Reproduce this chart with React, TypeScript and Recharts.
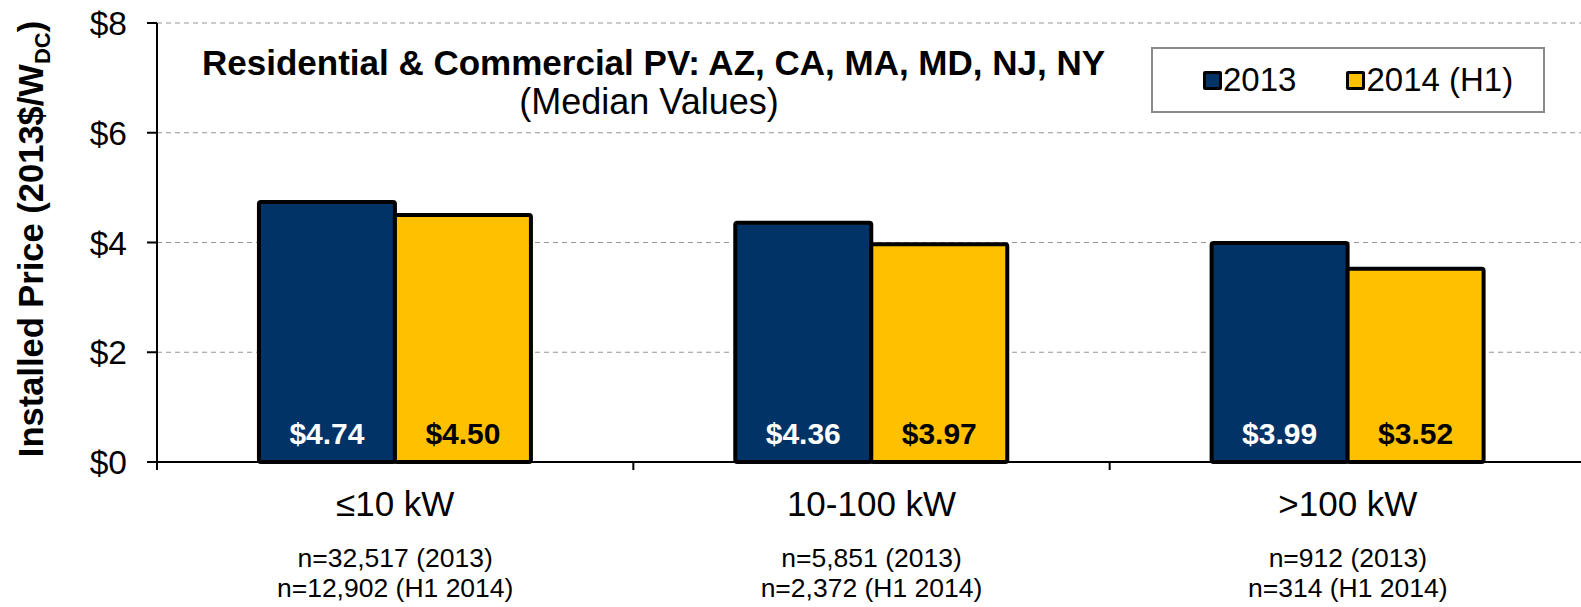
import React from 'react'
import { BarChart, Bar, XAxis, YAxis, CartesianGrid, Legend, LabelList } from 'recharts'

const categories = ['≤10 kW', '10-100 kW', '>100 kW']
const price2013 = [4.74, 4.36, 3.99]
const price2014 = [4.5, 3.97, 3.52]
const count2013 = [32517, 5851, 912]
const count2014 = [12902, 2372, 314]
const yTicks = [0, 2, 4, 6, 8]
const seriesNames = ['2013', '2014 (H1)']

const data = categories.map((c, i) => ({
  category: c,
  y2013: price2013[i],
  y2014: price2014[i],
}))

const FONT = '"Liberation Sans", Arial, sans-serif'
const BLUE = '#023366'
const GOLD = '#ffc000'
const CHART_W = 1590
const CHART_H = 607
const Y_AXIS_W = 157
const RIGHT_M = 4
const BAND = (CHART_W - Y_AXIS_W - RIGHT_M) / categories.length

const fmt = (n: number) => n.toLocaleString('en-US')

function XTick({ x, y, payload, index }: any) {
  const i = index ?? categories.indexOf(payload.value)
  const left = x - BAND / 2
  return (
    <g fontFamily={FONT} fill="#000">
      <line x1={left} y1={y} x2={left} y2={y + 8} stroke="#000" strokeWidth={2} />
      <text x={x} y={y + 54} textAnchor="middle" fontSize={35} fill="#000">
        {payload.value}
      </text>
      <text x={x} y={y + 105} textAnchor="middle" fontSize={26.5} fill="#000">
        n={fmt(count2013[i])} (2013)
      </text>
      <text x={x} y={y + 135} textAnchor="middle" fontSize={26.5} fill="#000">
        n={fmt(count2014[i])} (H1 2014)
      </text>
    </g>
  )
}

function YTick({ x, y, payload }: any) {
  return (
    <text x={x} y={y} dy={12} textAnchor="end" fontSize={33.5} fontFamily={FONT} fill="#000">
      ${payload.value}
    </text>
  )
}

const valueLabel = (color: string) => (props: any) => {
  const { x, y, width, height, value } = props
  return (
    <text
      x={x + width / 2}
      y={y + height - 18}
      textAnchor="middle"
      fontSize={30}
      fontWeight="bold"
      fontFamily={FONT}
      fill={color}
    >
      ${Number(value).toFixed(2)}
    </text>
  )
}

function LegendBox({ payload }: any) {
  return (
    <div
      style={{
        width: 394,
        height: 66,
        border: '2px solid #8a8a8a',
        background: '#fff',
        display: 'flex',
        alignItems: 'center',
        paddingLeft: 50,
        boxSizing: 'border-box',
        fontFamily: FONT,
        fontSize: 33,
        color: '#000',
      }}
    >
      {(payload || []).map((p: any, i: number) => (
        <div key={p.value} style={{ display: 'flex', alignItems: 'center', marginRight: i === 0 ? 50 : 0 }}>
          <span
            style={{
              display: 'inline-block',
              width: 13,
              height: 13,
              border: '3px solid #000',
              borderRadius: 2,
              background: p.color,
              marginRight: 1,
            }}
          />
          {p.value}
        </div>
      ))}
    </div>
  )
}

export default function App() {
  return (
    <div style={{ position: 'absolute', left: 0, top: 0, width: 1581, height: 607, overflow: 'hidden', background: '#fff' }}>
      <BarChart
        width={CHART_W}
        height={CHART_H}
        data={data}
        margin={{ top: 23, right: RIGHT_M, left: 0, bottom: 0 }}
        barCategoryGap="21.4%"
        barGap={0}
      >
        <CartesianGrid vertical={false} stroke="#959595" strokeDasharray="5 4" />
        <XAxis
          dataKey="category"
          height={145}
          axisLine={{ stroke: '#000', strokeWidth: 2 }}
          tickLine={false}
          tickSize={0}
          tickMargin={0}
          interval={0}
          tick={<XTick />}
        />
        <YAxis
          width={Y_AXIS_W}
          domain={[0, 8]}
          ticks={yTicks}
          axisLine={{ stroke: '#000', strokeWidth: 2 }}
          tickLine={{ stroke: '#000', strokeWidth: 2 }}
          tickSize={10}
          tickMargin={20}
          tick={<YTick />}
        />
        <Legend
          layout="horizontal"
          verticalAlign="middle"
          align="center"
          content={<LegendBox />}
          wrapperStyle={{ position: 'absolute', left: 1151, top: 47, width: 'auto', height: 'auto' }}
        />
        <Bar dataKey="y2013" name={seriesNames[0]} fill={BLUE} stroke="#000" strokeWidth={4} radius={2} isAnimationActive={false}>
          <LabelList dataKey="y2013" content={valueLabel('#fff')} />
        </Bar>
        <Bar dataKey="y2014" name={seriesNames[1]} fill={GOLD} stroke="#000" strokeWidth={4} radius={2} isAnimationActive={false}>
          <LabelList dataKey="y2014" content={valueLabel('#000')} />
        </Bar>
      </BarChart>
      <svg
        width={1581}
        height={607}
        style={{ position: 'absolute', left: 0, top: 0, pointerEvents: 'none' }}
        fontFamily={FONT}
      >
        <text x={202} y={75} fontSize={35} fontWeight="bold" fill="#000">
          Residential &amp; Commercial PV: AZ, CA, MA, MD, NJ, NY
        </text>
        <text x={649} y={114} fontSize={36} textAnchor="middle" fill="#000">
          (Median Values)
        </text>
        <text
          transform="translate(43, 239) rotate(-90)"
          textAnchor="middle"
          fontSize={34.5}
          fontWeight="bold"
          fill="#000"
        >
          Installed Price (2013$/W
          <tspan fontSize={22} dy={7}>DC</tspan>
          <tspan dy={-7}>)</tspan>
        </text>
      </svg>
    </div>
  )
}
